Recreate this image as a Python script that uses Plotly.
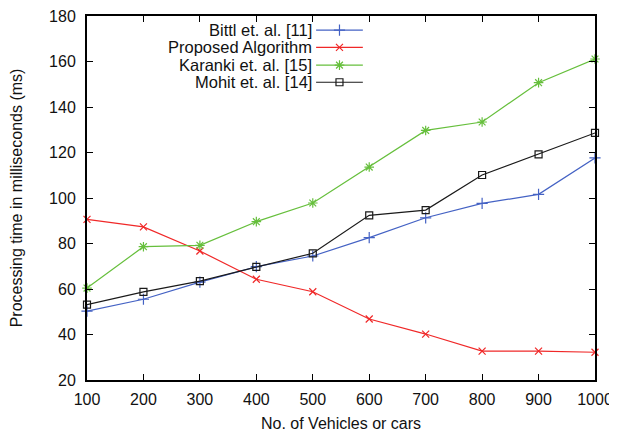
import plotly.graph_objects as go

vehicles = [100, 200, 300, 400, 500, 600, 700, 800, 900, 1000]
bittl = [50.3, 55.5, 63.0, 69.8, 74.5, 82.6, 91.3, 97.6, 101.6, 117.6]
proposed = [90.6, 87.3, 76.7, 64.3, 58.8, 46.8, 40.2, 32.7, 32.7, 32.2]
karanki = [60.4, 78.6, 79.2, 89.6, 97.8, 113.6, 129.7, 133.4, 150.7, 161.1]
mohit = [53.1, 58.7, 63.5, 69.7, 75.7, 92.4, 94.7, 110.1, 119.2, 128.6]

names = ["Bittl et. al. [11]", "Proposed Algorithm", "Karanki et. al. [15]", "Mohit et. al. [14]"]
series = [bittl, proposed, karanki, mohit]
colors = ["#4462c4", "#f02828", "#66bf3c", "#1a1a1a"]
symbols = ["cross-thin", "x-thin", "asterisk", "square-open"]
sizes = [8, 7, 8, 7]

x_ticks = [100, 200, 300, 400, 500, 600, 700, 800, 900, 1000]
y_ticks = [20, 40, 60, 80, 100, 120, 140, 160, 180]

FONT = "Liberation Sans, Arial, Helvetica"

fig = go.Figure()
for name, ys, c, s, sz in zip(names, series, colors, symbols, sizes):
    fig.add_trace(go.Scatter(
        x=vehicles, y=ys, name=name, mode="lines+markers",
        line=dict(color=c, width=1.2),
        marker=dict(symbol=s, size=sz, color=c, line=dict(color=c, width=1.2)),
        showlegend=False, cliponaxis=False,
    ))

# Manual gnuplot-style legend (text right, sample at right)
leg_y = [0.961, 0.914, 0.865, 0.818]
x_text = 0.445
x0, x1, xm = 0.451, 0.543, 0.497
for name, c, s, sz, ly in zip(names, colors, symbols, sizes, leg_y):
    fig.add_annotation(x=x_text, y=ly, xref="paper", yref="paper", text=name,
                       showarrow=False, xanchor="right", yanchor="middle", borderpad=0,
                       font=dict(size=16.5, color="#111", family=FONT))
    fig.add_shape(type="line", xref="paper", yref="paper", x0=x0, x1=x1, y0=ly, y1=ly,
                  line=dict(color=c, width=1.2))
    fig.add_trace(go.Scatter(x=[xm], y=[ly], xaxis="x2", yaxis="y2", mode="markers",
                             marker=dict(symbol=s, size=sz, color=c, line=dict(color=c, width=1.2)),
                             showlegend=False, hoverinfo="skip"))

axis_common = dict(showgrid=False, zeroline=False, showline=True, linecolor="black",
                   linewidth=2, mirror="allticks", ticks="inside", ticklen=6,
                   tickcolor="black", tickwidth=1, automargin=False,
                   ticklabeloverflow="allow",
                   tickfont=dict(size=16, color="#111", family=FONT))

# The page body has an 8px margin, so the figure is shrunk to fit the window.
fig.update_layout(
    width=609, height=424,
    margin=dict(l=79, r=22, t=8, b=52),
    paper_bgcolor="white", plot_bgcolor="white",
    xaxis=dict(range=[100, 1000], tickvals=x_ticks, ticklabelstandoff=4,
               title=dict(text="No. of Vehicles or cars", standoff=12,
                          font=dict(size=16, color="#111", family=FONT)),
               **axis_common),
    yaxis=dict(range=[20, 180], tickvals=y_ticks, ticklabelstandoff=6,
               title=dict(text="Processing time in milliseconds (ms)", standoff=28,
                          font=dict(size=16, color="#111", family=FONT)),
               **axis_common),
    xaxis2=dict(overlaying="x", range=[0, 1], visible=False),
    yaxis2=dict(overlaying="y", range=[0, 1], visible=False),
)

fig.write_html("out.html")
